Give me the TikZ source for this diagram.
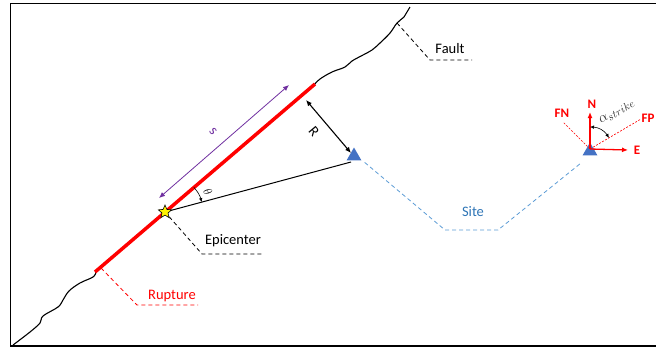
\documentclass[tikz,border=0pt]{standalone}
\usepackage{fontspec}
\setmainfont{Carlito}
\usetikzlibrary{arrows.meta,positioning,shapes.geometric,calc}
\definecolor{rupred}{HTML}{FF0000}
\definecolor{tribl}{HTML}{4472C4}
\definecolor{leadbl}{HTML}{5B9BD5}
\definecolor{txtbl}{HTML}{2E75B6}
\definecolor{spurp}{HTML}{7030A0}

\begin{document}
\begin{tikzpicture}[
  x=1pt, y=-1pt,
  font=\fontsize{14.5}{17}\selectfont,
  lead/.style={dash pattern=on 4pt off 3pt, line width=0.8pt},
  dbl/.style={{Latex[length=6pt,width=5pt]}-{Latex[length=6pt,width=5pt]}},
  sitetri/.style={regular polygon, regular polygon sides=3, fill=tribl,
                  inner sep=0pt, minimum size=17pt},
  axisarr/.style={-{Latex[length=6pt,width=5pt]}, rupred, line width=1.3pt},
  dirlbl/.style={rupred, inner sep=1pt, font=\fontsize{13}{15}\selectfont\bfseries}
]
  \clip (0,0) rectangle (656,349);
  \draw[line width=1.6pt] (10.5,3.5) rectangle (690,346);

  % fault trace and rupture
  \coordinate (rupA) at (95,272);
  \coordinate (rupB) at (315,84);
  \draw[line width=1.1pt, line join=round] plot[smooth, tension=0.6] coordinates
    {(13,345) (30,332) (40,323) (43,316) (58,307) (63,300) (69,291) (80,283) (93,277) (96,272)};
  \draw[line width=1.1pt, line join=round] plot[smooth, tension=0.6] coordinates
    {(314,85) (320,79) (332,72) (345,67) (352,61) (363,55) (372,50) (380,43) (390,33) (397,23) (404,17) (407,12) (410,7)};
  \draw[rupred, line width=3.5pt] (rupA) -- (rupB);

  % epicenter and site
  \node[sitetri] (site) at (354,156) {};
  \node[sitetri] (obs) at (590,151) {};
  \coordinate (siteL) at (351,162);
  \draw[line width=1pt] (165,212) -- (siteL);
  \node[star, star points=5, star point ratio=2.2, fill=yellow, draw=black,
        line width=0.6pt, inner sep=0pt, minimum size=14pt] (epi) at (165,212) {};

  % s and R
  \coordinate (sA) at (159,198);
  \coordinate (sB) at (289,85);
  \draw[dbl, spurp, line width=0.8pt] (sA) -- (sB);
  \node[spurp, rotate=-50] (slbl) at (213,131) {s};
  \coordinate (rA) at (306,100);
  \coordinate (rB) at (351,153);
  \draw[dbl, line width=1.1pt] (rA) -- (rB);
  \node[rotate=-50] (rlbl) at (314,132) {R};

  % theta
  \coordinate (thA) at ($(epi.center)!38pt!(rupB)$);
  \coordinate (thB) at ($(epi.center)!38pt!(siteL)$);
  \draw[-{Latex[length=4pt,width=3.5pt]}, line width=0.6pt] (thA) to[bend left=13] (thB);
  \node[rotate=-60, font=\fontsize{13}{15}\selectfont] (thlbl) at (208,192) {$\theta$};

  % site leader
  \coordinate (sl1) at (445,230);
  \coordinate (sl2) at (498,230);
  \coordinate (sl3) at (581,163);
  \draw[lead, leadbl] (site.corner 3) ++(3,2) -- (sl1) -- (sl2) -- (sl3);
  \node[txtbl] (sitelbl) at (473,212) {Site};

  % orientation at site
  \coordinate (o) at (590,149);
  \coordinate (fnEnd) at (563,122);
  \coordinate (fpEnd) at (641,119);
  \draw[rupred, dash pattern=on 2pt off 1.5pt, line width=0.6pt] (o) -- (fnEnd);
  \draw[rupred, dash pattern=on 2pt off 1.5pt, line width=0.6pt] (o) -- (fpEnd);
  \coordinate (nEnd) at (590,112);
  \coordinate (eEnd) at (628,150);
  \draw[axisarr] (o) -- (nEnd);
  \draw[axisarr] (o) -- (eEnd);
  \node[dirlbl] (nlbl) at (592,104) {N};
  \node[dirlbl] (elbl) at (637,150) {E};
  \node[dirlbl] (fnlbl) at (562,113) {FN};
  \node[dirlbl] (fplbl) at (648,118) {FP};
  \coordinate (alA) at ($(o)!22pt!(nEnd)$);
  \coordinate (alB) at ($(o)!22pt!(fpEnd)$);
  \draw[line width=0.6pt, {Latex[length=4pt,width=3.5pt]}-{Latex[length=4pt,width=3.5pt]}]
    (alA) to[bend left=28] (alB);
  \node[rotate=30, inner sep=0pt, text=black!80, font=\fontsize{15}{17}\selectfont] (allbl) at (617,112)
    {$\alpha_{\scriptstyle strike}$};

  % callouts
  \coordinate (fl1) at (430,60);
  \coordinate (fl2) at (472,60);
  \draw[lead] (397,23) -- (fl1) -- (fl2);
  \node (faultlbl) at (450,49) {Fault};
  \coordinate (el1) at (202,254);
  \coordinate (el2) at (263,254);
  \draw[lead] (epi) -- (el1) -- (el2);
  \node (epilbl) at (233,241) {Epicenter};
  \coordinate (rl0) at (101,268);
  \coordinate (rl1) at (137,305);
  \coordinate (rl2) at (198,305);
  \draw[lead, rupred] (rl0) -- (rl1) -- (rl2);
  \node[rupred] (ruplbl) at (172,296) {Rupture};
\end{tikzpicture}
\end{document}
